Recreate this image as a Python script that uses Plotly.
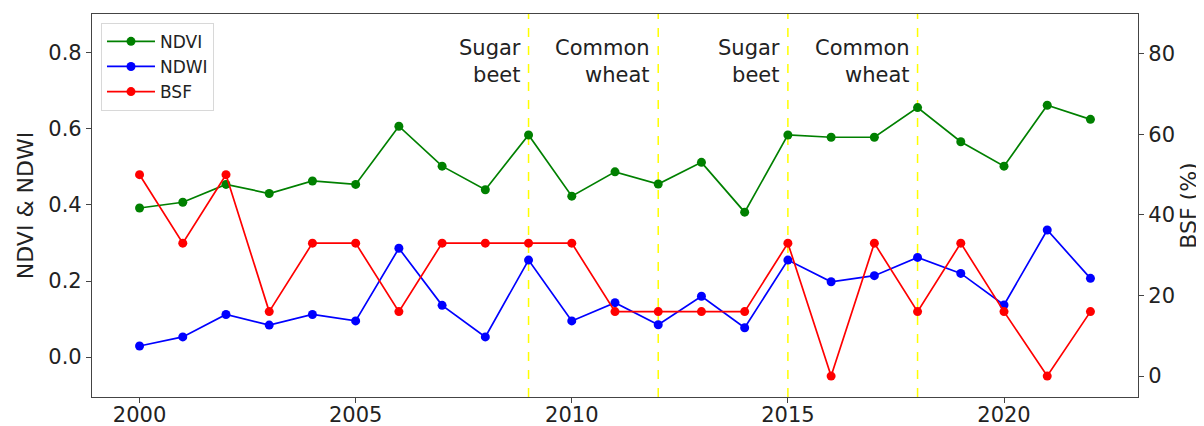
import plotly.graph_objects as go

years = list(range(2000, 2023))
ndvi = [0.392, 0.407, 0.454, 0.430, 0.463, 0.454, 0.607, 0.502, 0.440, 0.584, 0.423, 0.487,
        0.455, 0.512, 0.381, 0.584, 0.578, 0.578, 0.656, 0.566, 0.502, 0.662, 0.625]
ndwi = [0.029, 0.053, 0.112, 0.084, 0.112, 0.095, 0.286, 0.136, 0.053, 0.255, 0.095, 0.143,
        0.085, 0.160, 0.077, 0.255, 0.198, 0.214, 0.262, 0.220, 0.137, 0.334, 0.207]
bsf = [50, 33, 50, 16, 33, 33, 16, 33, 33, 33, 33, 16,
       16, 16, 16, 33, 0, 33, 16, 33, 16, 0, 16]
event_years = [2009, 2012, 2015, 2018]
event_labels = ["Sugar<br>beet", "Common<br>wheat", "Sugar<br>beet", "Common<br>wheat"]

FONT = "DejaVu Sans"
AX = "#444444"

fig = go.Figure()
fig.add_trace(go.Scatter(x=years, y=ndvi, name="NDVI", mode="lines+markers",
                         line=dict(color="#008000", width=1.7), marker=dict(size=9, color="#008000")))
fig.add_trace(go.Scatter(x=years, y=ndwi, name="NDWI", mode="lines+markers",
                         line=dict(color="#0000ff", width=1.7), marker=dict(size=9, color="#0000ff")))
fig.add_trace(go.Scatter(x=years, y=bsf, name="BSF", mode="lines+markers", yaxis="y2",
                         line=dict(color="#ff0000", width=1.7), marker=dict(size=9, color="#ff0000")))

for yr, lab in zip(event_years, event_labels):
    fig.add_shape(type="line", xref="x", yref="paper", x0=yr, x1=yr, y0=0, y1=1,
                  line=dict(color="#ffff00", width=1.5, dash="dash"), layer="below")
    fig.add_annotation(x=yr, xref="x", y=0.947, yref="paper", text=lab, showarrow=False,
                       xanchor="right", yanchor="top", align="right", xshift=-6,
                       font=dict(family=FONT, size=21, color="#222222"))

fig.update_layout(
    width=1196, height=418,
    margin=dict(l=84, r=66, t=6, b=29, autoexpand=False),
    paper_bgcolor="white", plot_bgcolor="white",
    font=dict(family=FONT, size=21, color="#222222"),
    showlegend=True,
    legend=dict(x=0.0086, y=0.977, xanchor="left", yanchor="top",
                bgcolor="rgba(255,255,255,0.9)", bordercolor="#d8d8d8", borderwidth=1,
                itemwidth=48,
                font=dict(family=FONT, size=17, color="#222222"), tracegroupgap=0),
    xaxis=dict(range=[1998.9, 2023.1], tickmode="array", tickvals=[2000, 2005, 2010, 2015, 2020],
               ticks="outside", ticklen=5, tickcolor=AX, showline=True, linecolor=AX, linewidth=1.2,
               mirror=True, showgrid=False, zeroline=False, automargin=False,
               ticklabelstandoff=-6),
    yaxis=dict(range=[-0.105, 0.902], tickmode="array", tickvals=[0.0, 0.2, 0.4, 0.6, 0.8],
               ticktext=["0.0", "0.2", "0.4", "0.6", "0.8"],
               ticks="outside", ticklen=5, tickcolor=AX, showline=True, linecolor=AX, linewidth=1.2,
               showgrid=False, zeroline=False, automargin=False,
               title=dict(text="NDVI & NDWI", standoff=8, font=dict(size=22))),
    yaxis2=dict(range=[-5.2, 89.9], overlaying="y", side="right", tickmode="array",
                tickvals=[0, 20, 40, 60, 80],
                ticks="outside", ticklen=5, tickcolor=AX, showline=True, linecolor=AX, linewidth=1.2,
                showgrid=False, zeroline=False, automargin=False,
                title=dict(text="BSF (%)", standoff=6, font=dict(size=22))),
)

fig.write_html("out.html")
